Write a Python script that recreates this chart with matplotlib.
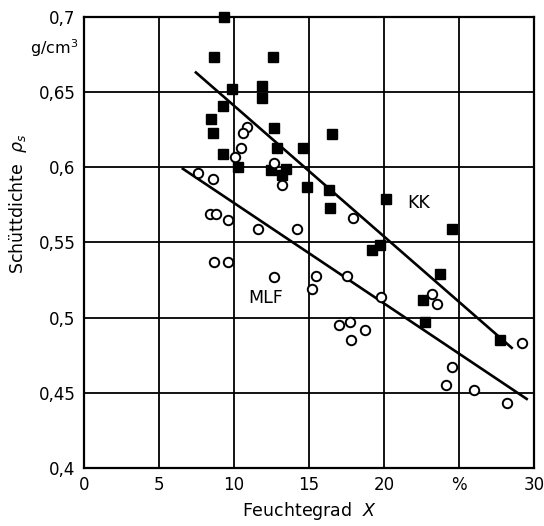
import matplotlib.pyplot as plt

# KK (filled squares)
kk_x = [9.33, 8.67, 12.6, 9.87, 11.9, 11.9, 9.27, 8.5, 8.6, 12.7, 9.27, 10.3,
        12.9, 14.6, 16.5, 12.5, 13.2, 13.5, 14.9, 16.3, 16.4, 20.1, 19.2, 19.7,
        24.5, 23.7, 22.6, 22.7, 27.7]
kk_y = [0.700, 0.673, 0.673, 0.652, 0.654, 0.646, 0.641, 0.632, 0.623, 0.626, 0.609, 0.600,
        0.613, 0.613, 0.622, 0.598, 0.595, 0.599, 0.587, 0.585, 0.573, 0.579, 0.545, 0.548,
        0.559, 0.529, 0.512, 0.497, 0.485]

# MLF (open circles)
mlf_x = [10.9, 10.6, 10.5, 10.1, 7.6, 8.6, 8.4, 8.8, 9.6, 11.6, 8.7, 9.6,
         12.7, 13.2, 17.9, 14.2, 12.7, 15.5, 15.2, 17.5, 19.8, 23.2, 23.5,
         17.0, 17.7, 18.7, 17.8, 29.2, 24.5, 24.1, 26.0, 28.2]
mlf_y = [0.627, 0.623, 0.613, 0.607, 0.596, 0.592, 0.569, 0.569, 0.565, 0.559, 0.537, 0.537,
         0.603, 0.588, 0.566, 0.559, 0.527, 0.528, 0.519, 0.528, 0.514, 0.516, 0.509,
         0.495, 0.497, 0.492, 0.485, 0.483, 0.467, 0.455, 0.452, 0.443]

# fitted lines (end points)
kk_line_x = [7.47, 28.5]
kk_line_y = [0.663, 0.480]
mlf_line_x = [6.6, 29.5]
mlf_line_y = [0.599, 0.446]

xticks = [0, 5, 10, 15, 20, 25, 30]
xtick_labels = ['0', '5', '10', '15', '20', '%', '30']
yticks = [0.4, 0.45, 0.5, 0.55, 0.6, 0.65, 0.7]
ytick_labels = ['0,4', '0,45', '0,5', '0,55', '0,6', '0,65', '0,7']

fig = plt.figure(figsize=(5.44, 5.26), dpi=100)
ax = fig.add_axes([0.154, 0.110, 0.828, 0.858])

ax.plot(kk_line_x, kk_line_y, color='black', lw=1.9, zorder=3)
ax.plot(mlf_line_x, mlf_line_y, color='black', lw=1.9, zorder=3)
ax.plot(kk_x, kk_y, 's', color='black', ms=7.5, zorder=4, clip_on=False)
ax.plot(mlf_x, mlf_y, 'o', mfc='white', mec='black', mew=1.4, ms=6.8, zorder=5)

ax.text(22.3, 0.576, 'KK', fontsize=12.5, ha='center', va='center')
ax.text(12.1, 0.513, 'MLF', fontsize=12.5, ha='center', va='center')

ax.set_xlim(0, 30)
ax.set_ylim(0.4, 0.7)
ax.set_xticks(xticks)
ax.set_xticklabels(xtick_labels)
ax.set_yticks(yticks)
ax.set_yticklabels(ytick_labels)
ax.tick_params(length=0, labelsize=12, pad=6)
ax.grid(True, color='black', lw=1.3)
for s in ax.spines.values():
    s.set_linewidth(1.6)

ax.set_xlabel('Feuchtegrad  $X$', fontsize=12.5)
ax.set_ylabel(r'Schüttdichte  $\rho_s$', fontsize=12.5)
ax.yaxis.set_label_coords(-0.122, 0.585)
fig.text(0.10, 0.908, 'g/cm$^3$', fontsize=11.5, ha='center', va='center')

plt.savefig('out.png')
